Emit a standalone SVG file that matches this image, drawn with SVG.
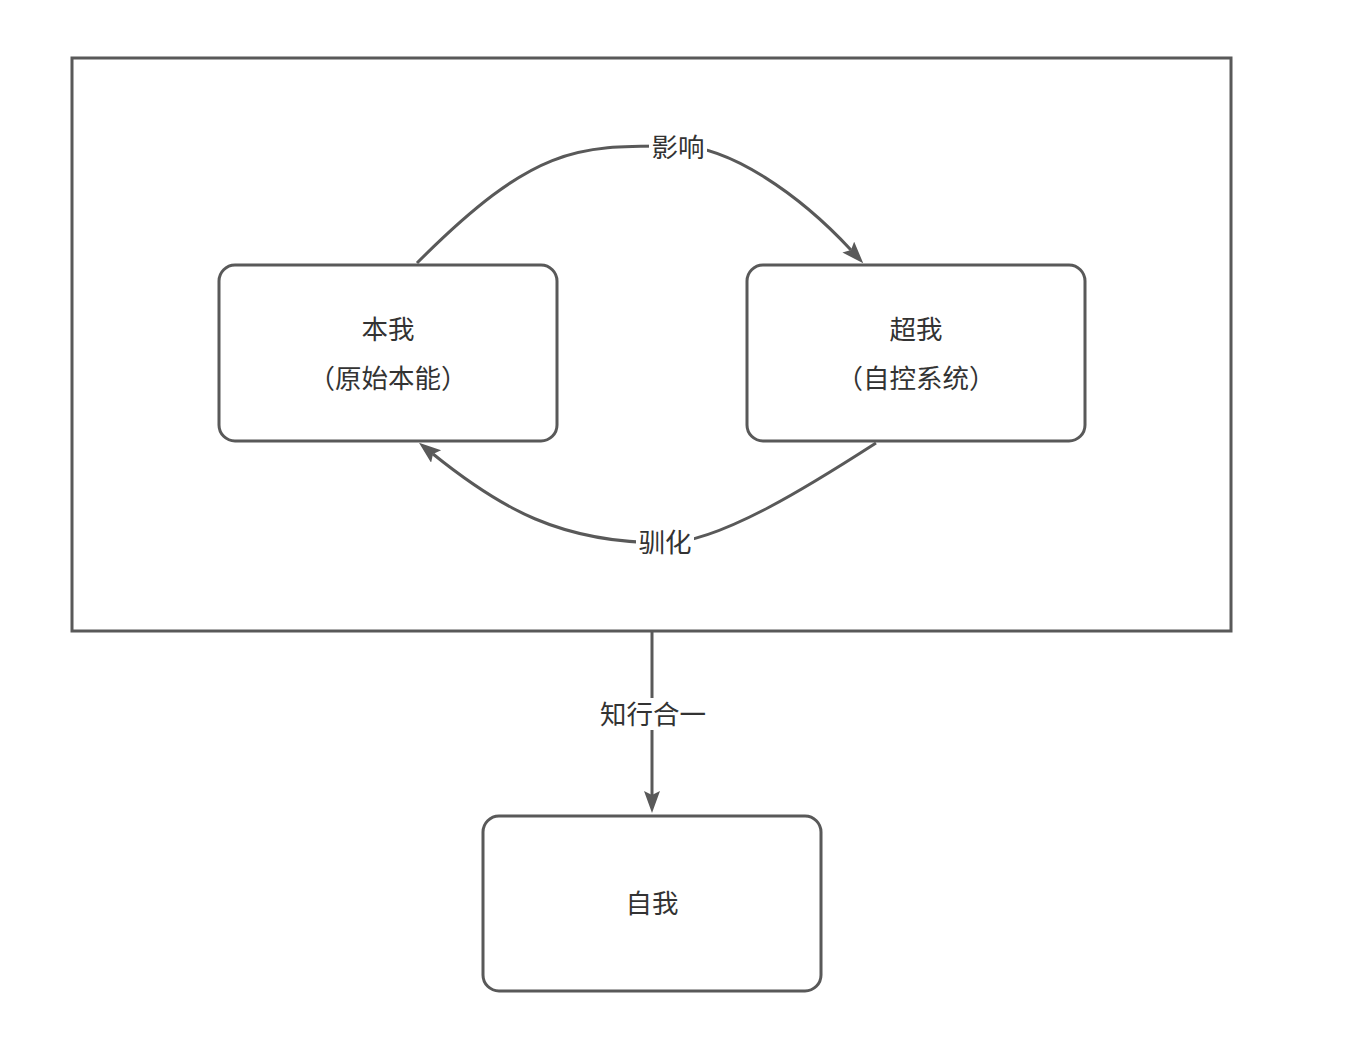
<svg xmlns="http://www.w3.org/2000/svg" width="1348" height="1050" viewBox="0 0 1348 1050">
<style>
.box{fill:#fff;stroke:#595959;stroke-width:3}
.edge{fill:none;stroke:#595959;stroke-width:3}
.t{font-family:"Noto Sans CJK SC","Noto Sans",sans-serif;font-size:26.5px;fill:#333;text-anchor:middle;dominant-baseline:central}
.bg{fill:#fff}
</style>
<defs>
<marker id="arr" markerUnits="userSpaceOnUse" markerWidth="24" markerHeight="18" refX="4" refY="8" orient="auto" viewBox="0 0 24 18">
<path d="M0,0 L22,8 L0,16 L4,8 Z" fill="#595959"/>
</marker>
</defs>
<rect width="1348" height="1050" fill="#fff"/>
<g id="frame"><rect class="box" x="72" y="58" width="1159" height="573" fill="none"/></g>
<g id="connectors">
<path class="edge" d="M417,263 C537,143 578,146 678,146 C730,146 800,195 851,250" marker-end="url(#arr)"/>
<rect class="bg" x="649" y="133" width="58" height="30"/>
<text class="t" x="678" y="145">影响</text>
<path class="edge" d="M876,443 C817,481 720,543 665,543 C560,543 500,508 433,454" marker-end="url(#arr)"/>
<rect class="bg" x="636" y="528" width="58" height="30"/>
<text class="t" x="665" y="540">驯化</text>
<path class="edge" d="M652,632 L652,795" marker-end="url(#arr)"/>
<rect class="bg" x="596" y="698" width="114" height="32"/>
<text class="t" x="653" y="712">知行合一</text>
</g>
<g id="id-node">
<rect class="box" x="219" y="265" width="338" height="176" rx="16"/>
<text class="t" x="388" y="327">本我</text>
<text class="t" x="388" y="376">（原始本能）</text>
</g>
<g id="superego-node">
<rect class="box" x="747" y="265" width="338" height="176" rx="16"/>
<text class="t" x="916" y="327">超我</text>
<text class="t" x="916" y="376">（自控系统）</text>
</g>
<g id="ego-node">
<rect class="box" x="483" y="816" width="338" height="175" rx="16"/>
<text class="t" x="652" y="901">自我</text>
</g>
</svg>
